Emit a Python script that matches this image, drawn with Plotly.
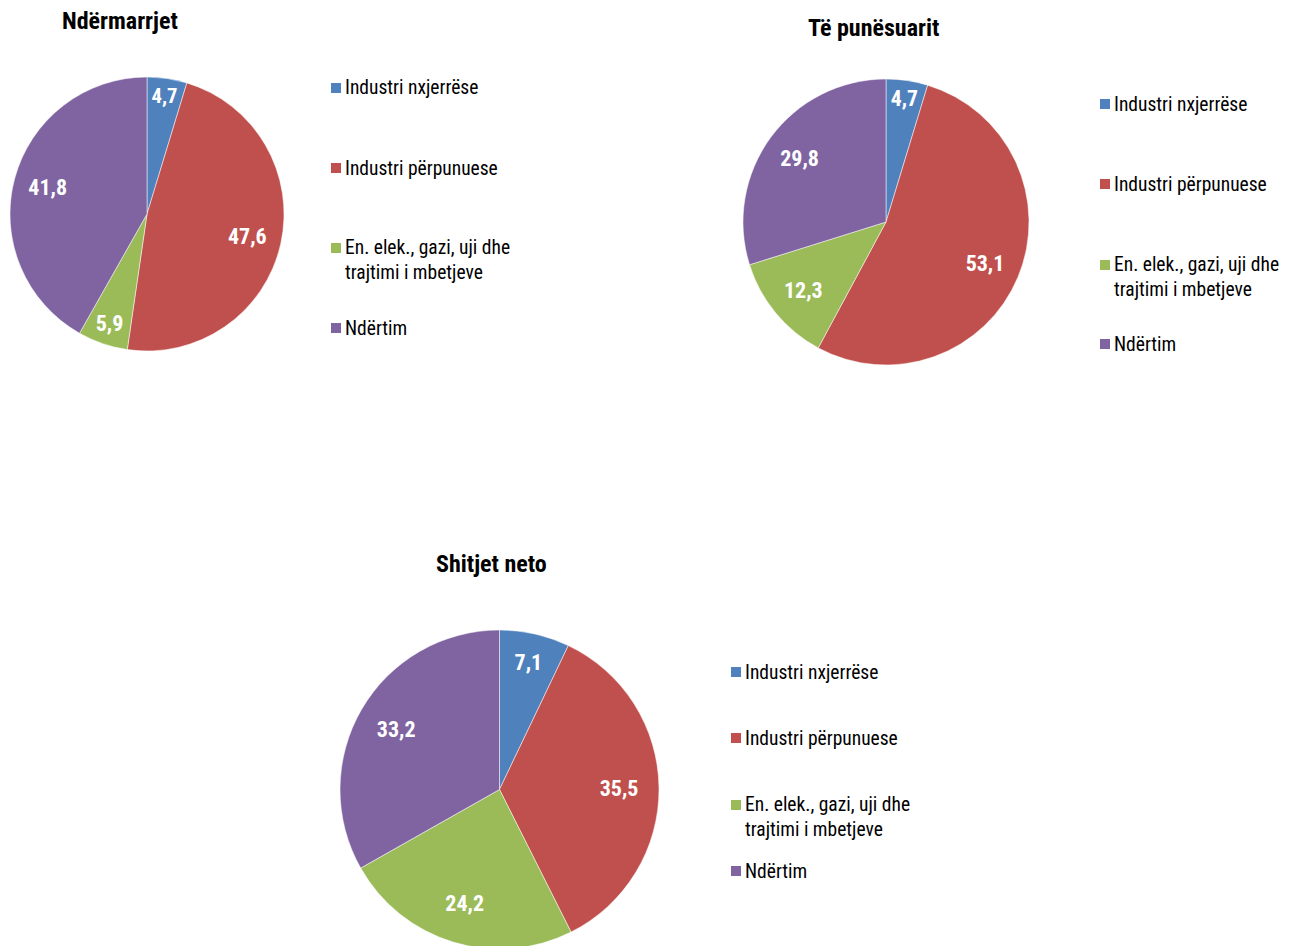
import plotly.graph_objects as go

W, H = 1301, 946
OFF = 8  # page body margin in the browser

categories = ["Industri nxjerrëse", "Industri përpunuese",
              "En. elek., gazi, uji dhe<br>trajtimi i mbetjeve", "Ndërtim"]
colors = ["#4F81BD", "#C0504D", "#9BBB59", "#8064A2"]

titles = ["Ndërmarrjet", "Të punësuarit", "Shitjet neto"]
ndermarrjet = [4.7, 47.6, 5.9, 41.8]
te_punesuarit = [4.7, 53.1, 12.3, 29.8]
shitjet_neto = [7.1, 35.5, 24.2, 33.2]
series = [ndermarrjet, te_punesuarit, shitjet_neto]

FONT = "Liberation Sans Narrow, Arial Narrow, Roboto Condensed, Liberation Sans, sans-serif"

# layout (pixels): pie bbox (left, top, right, bottom), title center, legend pos
pie_boxes = [(10, 77, 284, 351), (743, 79, 1029, 365), (340, 630, 659, 949)]
title_pos = [(120, 21), (873, 28), (491, 564)]
legend_x = [331, 1100, 731]
legend_ys = [[88, 168, 260, 328], [104, 184, 277, 344], [672, 738, 817, 871]]


def px(x):
    return (x - OFF) / W


def py(y):
    return 1 - (y - OFF) / H


fig = go.Figure()
for i, vals in enumerate(series):
    l, t, r, b = pie_boxes[i]
    dom = dict(x=[px(l), px(r)], y=[max(0, py(b)), py(t)])
    fig.add_trace(go.Pie(
        labels=categories, values=vals, sort=False, direction="clockwise",
        rotation=0, marker=dict(colors=colors, line=dict(color="white", width=0.5)),
        domain=dom, textinfo="none",
        showlegend=False, hoverinfo="label+value",
    ))
    # transparent ring carrying the data labels (placed at ~3/4 radius)
    fig.add_trace(go.Pie(
        labels=categories, values=vals, sort=False, direction="clockwise",
        rotation=0, hole=0.5,
        marker=dict(colors=["rgba(0,0,0,0)"] * 4, line=dict(width=0)),
        domain=dom,
        texttemplate="%{value:.1f}", textposition="inside",
        insidetextorientation="horizontal",
        textfont=dict(family=FONT, size=22, color="white", weight="bold"),
        showlegend=False, hoverinfo="skip",
    ))

annotations = []
shapes = []
for i, title in enumerate(titles):
    tx, ty = title_pos[i]
    annotations.append(dict(text="<b>" + title + "</b>", x=px(tx), y=py(ty),
                            xref="paper", yref="paper", showarrow=False,
                            xanchor="center", yanchor="middle", borderpad=0,
                            font=dict(family=FONT, size=24, color="black")))
    for j, cat in enumerate(categories):
        ly = legend_ys[i][j]
        nlines = cat.count("<br>") + 1
        sq_y = ly - (nlines - 1) * 12
        shapes.append(dict(type="rect", xref="paper", yref="paper",
                           x0=px(legend_x[i]), x1=px(legend_x[i] + 10),
                           y0=py(sq_y + 5), y1=py(sq_y - 5),
                           fillcolor=colors[j], line=dict(width=0)))
        annotations.append(dict(text=cat, x=px(legend_x[i] + 12), y=py(ly),
                                xref="paper", yref="paper", showarrow=False,
                                xanchor="left", yanchor="middle", align="left",
                                font=dict(family=FONT, size=19.5, color="black")))

fig.update_layout(
    width=W, height=H, margin=dict(l=0, r=0, t=0, b=0),
    paper_bgcolor="white", plot_bgcolor="white",
    separators=",.", annotations=annotations, shapes=shapes,
    font=dict(family=FONT),
)

fig.write_html("out.html")
